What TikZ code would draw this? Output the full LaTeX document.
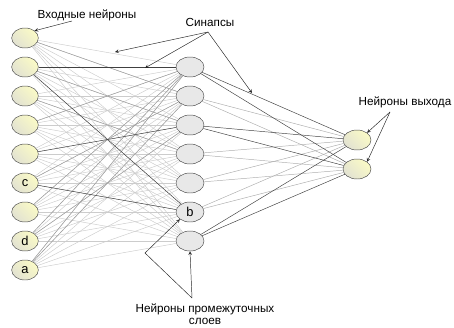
\documentclass[tikz,border=0pt]{standalone}
\usepackage{fontspec}
\setmainfont{Liberation Sans}
\usetikzlibrary{shapes.geometric}
\definecolor{inyellow}{RGB}{250,250,198}
\definecolor{ingray}{RGB}{226,226,210}
\definecolor{hidgray}{RGB}{232,232,232}
\begin{document}
\begin{tikzpicture}[nodes={draw=black!70,ellipse,inner sep=0pt,minimum height=0.6cm,font=\fontsize{11}{12}\selectfont},
  inp/.style={minimum width=0.8cm,top color=ingray,bottom color=inyellow,shading angle=135},
  hid/.style={minimum width=0.84cm,fill=hidgray},
  outp/.style={minimum width=0.84cm,top color=ingray,bottom color=inyellow,shading angle=135},
  lbl/.style={draw=none,rectangle,fill=none,inner sep=1pt,font=\fontsize{10}{10.5}\selectfont},
  syn/.style={draw=black!20},
  synm/.style={draw=black!38},
  synd/.style={draw=black!75},
  arr/.style={draw=black!85,>=stealth,->}]

      \useasboundingbox (0,0) rectangle (13.62,-9.81);

      % input layer
      \node[inp] (in1) at (0.75,-1.14) {};
      \node[inp] (in2) at (0.75,-2.01) {};
      \node[inp] (in3) at (0.75,-2.88) {};
      \node[inp] (in4) at (0.75,-3.75) {};
      \node[inp] (in5) at (0.75,-4.62) {};
      \node[inp] (in6) at (0.75,-5.49) {c};
      \node[inp] (in7) at (0.75,-6.36) {};
      \node[inp] (in8) at (0.75,-7.23) {d};
      \node[inp] (in9) at (0.75,-8.10) {a};

      % hidden layer
      \node[hid] (h1) at (5.7,-2.01) {};
      \node[hid] (h2) at (5.7,-2.88) {};
      \node[hid] (h3) at (5.7,-3.75) {};
      \node[hid] (h4) at (5.7,-4.62) {};
      \node[hid] (h5) at (5.7,-5.49) {};
      \node[hid] (h6) at (5.7,-6.36) {b};
      \node[hid] (h7) at (5.7,-7.23) {};

      % output layer
      \node[outp] (o1) at (10.71,-4.20) {};
      \node[outp] (o2) at (10.71,-5.07) {};

      % synapses
      \foreach \i in {1,...,9}
        \foreach \j in {1,...,7}
          \draw[syn] (in\i) -- (h\j);
      \foreach \i/\j in {1/2,2/3,4/1,6/2,7/1,8/1,9/1,9/2,3/4,8/3}
        \draw[synm] (in\i) -- (h\j);
      \foreach \i/\j in {2/1,2/6,5/3,6/6}
        \draw[synd] (in\i) -- (h\j);
      \foreach \j in {2,4,5,6}
        \foreach \k in {1,2}
          \draw[draw=black!32] (h\j) -- (o\k);
      \foreach \j in {1,3,7}
        \foreach \k in {1,2}
          \draw[synd] (h\j) -- (o\k);

      % labels
      \node[lbl] (inlbl) at (2.61,-0.45) {Входные нейроны};
      \node[lbl] (synlbl) at (6.3,-0.66) {Синапсы};
      \node[lbl] (outlbl) at (12.15,-3.06) {Нейроны выхода};
      \node[lbl,align=center] (hidlbl) at (6.15,-9.42) {Нейроны промежуточных\\слоев};

      \coordinate (ina) at (2.16,-0.63);
      \coordinate (syna) at (6.24,-0.96);
      \coordinate (syn1) at (3.45,-1.56);
      \coordinate (syn2) at (4.35,-2.04);
      \coordinate (syn3) at (7.56,-2.79);
      \coordinate (outa) at (11.7,-3.36);
      \coordinate (hida) at (5.76,-8.94);
      \coordinate (hidk) at (4.35,-7.59);

      \draw[arr] (ina) -- (in1.north east);
      \draw[arr] (syna) -- (syn1);
      \draw[arr] (syna) -- (syn2);
      \draw[arr] (syna) -- (syn3);
      \draw[arr] (outa) -- (o1.north east);
      \draw[arr] (outa) -- (o2.north east);
      \draw[arr] (hida) -- (h7.south);
      \draw[arr] (hida) -- (hidk) -- (h6.south west);

    \end{tikzpicture}
\end{document}
